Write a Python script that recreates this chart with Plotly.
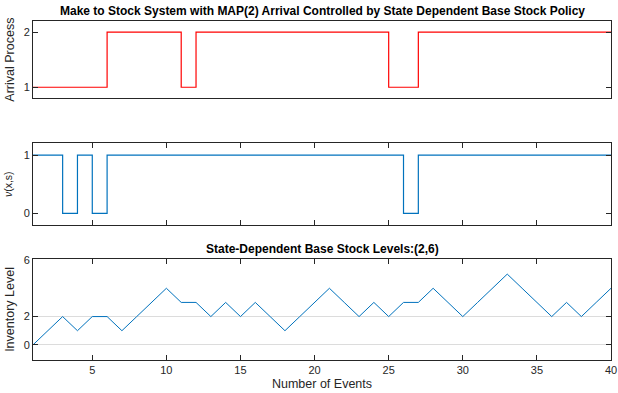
import plotly.graph_objects as go

events = list(range(1, 41))
arrival = [1, 1, 1, 1, 1, 2, 2, 2, 2, 2, 1, 2, 2, 2, 2, 2, 2, 2, 2, 2,
           2, 2, 2, 2, 1, 1, 2, 2, 2, 2, 2, 2, 2, 2, 2, 2, 2, 2, 2, 2]
nu = [1, 1, 0, 1, 0, 1, 1, 1, 1, 1, 1, 1, 1, 1, 1, 1, 1, 1, 1, 1,
      1, 1, 1, 1, 1, 0, 1, 1, 1, 1, 1, 1, 1, 1, 1, 1, 1, 1, 1, 1]
inventory = [0, 1, 2, 1, 2, 2, 1, 2, 3, 4, 3, 3, 2, 3, 2, 3, 2, 1, 2, 3,
             4, 3, 2, 3, 2, 3, 3, 4, 3, 2, 3, 4, 5, 4, 3, 2, 3, 2, 3, 4]
x_ticks = [5, 10, 15, 20, 25, 30, 35, 40]
title_top = "Make to Stock System with MAP(2) Arrival Controlled by State Dependent Base Stock Policy"
title_bottom = "State-Dependent Base Stock Levels:(2,6)"

FONT = "Liberation Sans, Arial, Helvetica, sans-serif"
AX = "#262626"

fig = go.Figure()
fig.add_trace(go.Scatter(x=events, y=arrival, mode="lines", line=dict(color="#ff0000", width=1.2, shape="hv"),
                         xaxis="x", yaxis="y", showlegend=False))
fig.add_trace(go.Scatter(x=events, y=nu, mode="lines", line=dict(color="#0072BD", width=1.2, shape="hv"),
                         xaxis="x2", yaxis="y2", showlegend=False))
fig.add_trace(go.Scatter(x=events, y=inventory, mode="lines", line=dict(color="#0072BD", width=1.0),
                         xaxis="x3", yaxis="y3", showlegend=False))

common_axis = dict(showline=True, linecolor=AX, linewidth=1, mirror="ticks", ticks="inside",
                   ticklen=5, tickcolor=AX, tickfont=dict(family=FONT, size=11, color=AX),
                   zeroline=False, showgrid=False, automargin=False)

fig.update_layout(
    width=618, height=393,
    margin=dict(l=33, r=7, t=21, b=33),
    paper_bgcolor="white", plot_bgcolor="white",
    font=dict(family=FONT, color=AX),
    xaxis=dict(common_axis, domain=[0, 1], range=[1, 40], anchor="y", tickvals=[], showticklabels=False),
    yaxis=dict(common_axis, domain=[0.772, 1.0], range=[0.8, 2.2], tickvals=[1, 2], anchor="x",
               title=dict(text="Arrival Process", font=dict(size=12.5, family=FONT, color=AX), standoff=6)),
    xaxis2=dict(common_axis, domain=[0, 1], range=[1, 40], anchor="y2", tickvals=x_ticks, showticklabels=False),
    yaxis2=dict(common_axis, domain=[0.398, 0.639], range=[-0.2, 1.2], tickvals=[0, 1], anchor="x2",
                title=dict(text="<i>ν</i>(x,s)", font=dict(size=10.5, family=FONT, color=AX), standoff=8)),
    xaxis3=dict(common_axis, domain=[0, 1], range=[1, 40], anchor="y3", tickvals=x_ticks,
                title=dict(text="Number of Events", font=dict(size=12.5, family=FONT, color=AX), standoff=4)),
    yaxis3=dict(common_axis, domain=[0, 0.298], range=[-1.07, 6.07], tickvals=[0, 2, 6], anchor="x3",
                showgrid=True, gridcolor="#dcdcdc", gridwidth=1,
                title=dict(text="Inventory Level", font=dict(size=12.5, family=FONT, color=AX), standoff=6)),
    annotations=[
        dict(text="<b>" + title_top + "</b>", x=0.5, y=1.0, xref="paper", yref="paper",
             xanchor="center", yanchor="bottom", yshift=1, showarrow=False,
             font=dict(family=FONT, size=12, color="black")),
        dict(text="<b>" + title_bottom + "</b>", x=0.5, y=0.298, xref="paper", yref="paper",
             xanchor="center", yanchor="bottom", yshift=1, showarrow=False,
             font=dict(family=FONT, size=12, color="black")),
    ],
)

fig.write_html("out.html", config={"displayModeBar": False},
               post_script="document.body.style.margin='0';document.body.style.overflow='hidden';")
